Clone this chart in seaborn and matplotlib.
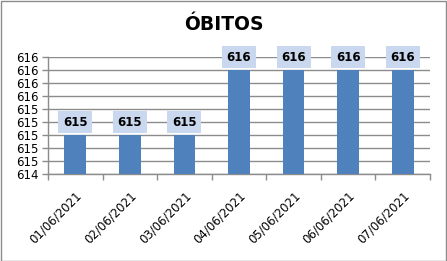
import matplotlib
matplotlib.use("Agg")
import matplotlib.pyplot as plt
import seaborn as sns
import pandas as pd
import numpy as np
from matplotlib.patches import Rectangle
from matplotlib.ticker import FormatStrFormatter, FixedLocator

dates = ["01/06/2021", "02/06/2021", "03/06/2021", "04/06/2021",
         "05/06/2021", "06/06/2021", "07/06/2021"]
obitos = [615, 615, 615, 616, 616, 616, 616]
title = "ÓBITOS"

sns.set_theme(style="white")
plt.rcParams['font.family'] = ['DejaVu Sans']
plt.rcParams['text.color'] = 'black'
plt.rcParams['xtick.color'] = 'black'
plt.rcParams['ytick.color'] = 'black'

df = pd.DataFrame({"data": dates, "obitos": obitos})

fig = plt.figure(figsize=(4.47, 2.61), dpi=100)
ax = fig.add_axes([48/447, 1-174/261, (430-48)/447, (174-57)/261])

sns.barplot(data=df, x="data", y="obitos", color="#4F81BD", width=0.4,
            saturation=1, ax=ax, zorder=3, edgecolor="none", linewidth=0)

ax.set_ylim(614.4, 616.2)
ax.set_yticks(np.arange(614.4, 616.21, 0.2))
ax.yaxis.set_major_formatter(FormatStrFormatter("%.0f"))
ax.yaxis.grid(True, color="#8C8C8C", linewidth=1, zorder=0)
ax.set_xlim(-0.5, len(dates) - 0.5)
ax.set_xlabel("")
ax.set_ylabel("")

ax.set_xticks(range(len(dates)))
ax.set_xticklabels(dates, rotation=45, ha="right", rotation_mode="anchor",
                   fontsize=8.5)
ax.xaxis.set_minor_locator(FixedLocator(np.arange(-0.5, len(dates), 1.0)))
ax.tick_params(axis="x", which="major", length=0, pad=11, colors="black")
ax.tick_params(axis="x", which="minor", length=4, color="#8C8C8C", width=1,
               bottom=True)
ax.tick_params(axis="y", length=4, color="#8C8C8C", labelcolor="black",
               width=1, left=True, labelsize=8.5, pad=3)

for s in ["top", "right"]:
    ax.spines[s].set_visible(False)
for s in ["left", "bottom"]:
    ax.spines[s].set_color("#8C8C8C")
    ax.spines[s].set_linewidth(1)

for i, v in enumerate(obitos):
    ax.text(i, v + 0.2, f"{v}", ha="center", va="center", fontsize=8.5,
            fontweight="bold", color="black", zorder=5,
            bbox=dict(boxstyle="square,pad=0.4", facecolor="#C9D8EE",
                      edgecolor="none"))

fig.text(0.5, 1 - 25/261, title, ha="center", va="center", fontsize=13.5,
         fontweight="bold", color="black")

fig.patches.append(Rectangle((0.5/447, 0.5/261), 1 - 1.5/447, 1 - 1.5/261,
                             transform=fig.transFigure, fill=False,
                             edgecolor="#8C8C8C", linewidth=1))

fig.savefig("out.png", dpi=100)
